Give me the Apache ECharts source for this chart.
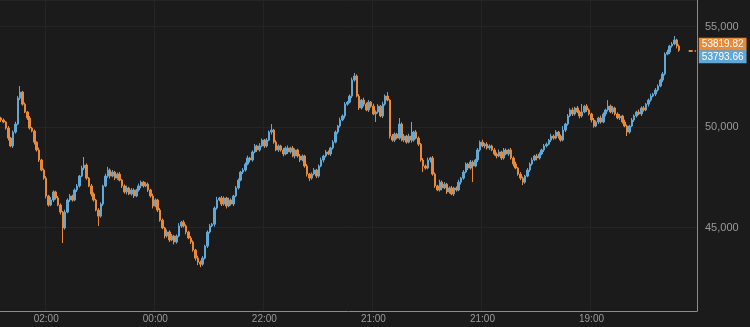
<!DOCTYPE html>
<html>
<head>
<meta charset="utf-8">
<script src="https://cdn.jsdelivr.net/npm/echarts@6/dist/echarts.min.js"></script>
<style>
html,body{margin:0;padding:0;background:#1b1b1b;}
#c{width:750px;height:327px;}
</style>
</head>
<body>
<div id="c"></div>
<script>
// ---- data ----
const firstOpen = 50450;
const closes = [
50350,50250,49950,49450,49060,49750,50150,51440,51740,51140,
50750,50450,49950,49800,49250,48860,48360,47860,47460,46570,
46120,46370,46770,46470,46120,45770,44980,45770,46370,46570,
46370,46870,47070,47560,47960,48110,47460,47070,46670,46370,
45870,45570,46170,47070,47560,47860,47560,47760,47460,47660,
47360,47070,46770,46970,46670,46870,46570,46870,47070,47260,
47070,47160,46870,46570,46070,46370,45870,45370,44980,44580,
44780,44380,44580,44280,44580,45080,45270,45080,44780,44480,
44280,43880,43480,43280,43180,43480,44080,44780,45080,45170,
45970,46370,46470,46170,46470,46070,46370,46170,46570,46970,
47360,47760,47860,48160,48460,48360,48760,49060,48860,49060,
49350,49060,49350,49750,49850,49250,48860,49060,48860,48660,
48960,48760,48960,48560,48860,48560,48360,48560,48060,47660,
47460,47660,47860,47560,48060,48360,48560,48760,48660,48960,
49250,49750,50050,50350,50550,51140,51240,51540,52340,52540,
51540,50950,51340,51140,50850,51240,51040,50650,50750,51040,
50550,51140,51540,51340,49550,49350,49650,49450,50150,49350,
49550,49250,49550,49350,49750,49450,49150,48360,48060,47960,
48360,48460,47660,47070,46870,47260,46970,47160,46770,46970,
46670,46970,46870,47260,47460,47760,48160,47960,48260,48060,
48360,48860,49250,49060,49150,48960,49060,48860,48660,48560,
48760,48460,48860,48660,48860,48460,48160,47960,47660,47460,
47260,47560,47860,48160,48360,48560,48460,48660,48860,49060,
49150,49350,49550,49450,49750,49550,49350,49850,50150,50550,
50850,50650,50950,50750,50550,50750,51040,50850,50650,50350,
50050,50250,50450,50250,50650,50850,51040,50750,50950,50650,
50450,50550,50250,50050,49750,50050,50350,50550,50750,50650,
50950,50850,51140,51340,51540,51640,51840,52040,52340,52640,
53630,53730,54030,54130,54330,54030,53819.82
];
const wickUp = [
60,80,40,100,60,80,120,100,300,60,
80,40,100,60,80,40,120,60,80,100,
60,140,80,60,100,80,60,120,80,100,
60,80,100,60,120,400,80,60,100,80,
60,100,80,60,120,160,80,100,60,80,
100,60,80,120,60,100,80,60,120,80,
60,100,80,60,120,80,60,100,80,60,
120,80,100,60,80,140,60,100,80,60,
100,80,60,120,80,100,60,80,100,60,
80,160,60,100,80,60,120,80,60,100,
80,60,100,80,120,60,80,100,60,140,
80,60,100,80,300,60,100,80,60,100,
80,120,60,100,80,60,100,80,60,100,
60,80,100,60,80,120,60,100,80,60,
100,80,60,120,80,100,60,80,120,150,
80,100,60,120,80,100,60,120,80,100,
60,120,80,200,60,100,80,60,300,80,
100,60,120,700,60,100,80,60,100,80,
120,60,100,80,60,120,80,100,60,80,
100,60,80,120,60,100,80,60,100,80,
60,100,80,120,60,100,80,60,100,80,
120,60,100,80,60,100,80,120,60,100,
80,60,100,80,120,60,100,80,60,100,
80,60,120,80,100,60,80,200,60,100,
80,120,60,100,80,400,60,100,80,60,
100,80,60,120,80,60,300,80,100,60,
80,100,60,120,80,60,100,80,60,120,
80,100,60,80,120,60,100,80,60,100,
80,120,60,100,200,60,80
];
const wickDown = [
100,60,80,120,60,100,80,60,100,80,
60,100,80,60,120,80,100,60,80,120,
80,60,100,80,60,120,750,80,60,100,
80,60,100,80,60,100,80,60,120,80,
60,490,80,100,60,80,120,60,100,80,
60,100,80,120,60,80,100,60,80,120,
80,60,100,80,120,60,100,80,60,120,
80,100,60,120,80,60,100,80,120,60,
100,80,120,150,150,80,60,100,80,60,
120,80,60,100,80,120,60,80,100,60,
80,60,100,80,60,120,80,60,100,80,
60,100,80,60,120,80,60,100,80,120,
60,100,80,60,120,80,100,60,80,120,
150,80,60,100,80,60,120,80,60,100,
80,60,100,80,60,120,80,60,100,80,
60,100,80,120,60,100,80,60,400,80,
60,100,80,60,120,80,100,60,80,60,
100,80,60,120,80,60,100,80,300,80,
60,120,80,100,60,80,120,60,100,80,
60,100,80,60,120,80,60,100,80,800,
60,100,80,60,120,80,100,60,80,120,
60,100,80,60,100,80,120,60,80,100,
150,80,60,100,80,60,120,80,60,100,
80,60,100,80,60,120,80,60,100,80,
60,100,80,60,120,80,60,100,80,120,
80,60,100,80,60,120,80,60,100,80,
60,100,80,60,200,80,60,100,80,60,
100,80,60,120,80,60,100,80,60,100,
80,60,100,80,60,120,80
];
const slotCount = 294;               // category slots on the time axis
const tickLabels = ['02:00','00:00','22:00','21:00','21:00','19:00'];
const tickSlots = [19,65,111,157,203,249];
const lastPrice = 53819.82;
const otherPrice = 53793.66;
const yMin = 40850, yMax = 56320;

// ---- build ----
const cats = [];
for (let i = 0; i < slotCount; i++) cats.push(String(i));
const ohlc = closes.map((c, i) => {
  const o = i === 0 ? firstOpen : closes[i - 1];
  const hi = Math.max(o, c) + wickUp[i];
  const lo = Math.min(o, c) - wickDown[i];
  return [o, c, lo, hi];
});
const tickMap = {};
tickSlots.forEach((s, k) => tickMap[s] = tickLabels[k]);
const isTick = (idx) => tickMap[idx] !== undefined;

const BLUE = '#62a8d6', ORANGE = '#ea8a38';
const lastIdx = closes.length;
const FONT = 'Liberation Sans, Arial, sans-serif';
const chart = echarts.init(document.getElementById('c'));
chart.setOption({
  backgroundColor: '#1b1b1b',
  animation: false,
  grid: {left: 0, right: 53, top: 0, bottom: 16, containLabel: false},
  xAxis: {
    type: 'category', data: cats, boundaryGap: true,
    axisLine: {show: true, lineStyle: {color: '#8c8c8c', width: 1}},
    axisTick: {show: false},
    axisLabel: {
      interval: (idx) => isTick(idx),
      formatter: (v, idx) => tickMap[idx] || '',
      color: '#9a9a9a', fontSize: 10, margin: 3, fontFamily: FONT
    },
    splitLine: {show: true, interval: (idx) => isTick(idx), lineStyle: {color: '#242424', width: 1}}
  },
  yAxis: {
    type: 'value', position: 'right', min: yMin, max: yMax, splitNumber: 3, scale: true,
    axisLine: {show: true, lineStyle: {color: '#8c8c8c', width: 1}},
    axisTick: {show: false},
    axisLabel: {
      color: '#9a9a9a', fontSize: 11, margin: 8, showMinLabel: false, showMaxLabel: false,
      fontFamily: FONT,
      formatter: (v) => v.toLocaleString('en-US')
    },
    splitLine: {show: true, lineStyle: {color: '#242424', width: 1}}
  },
  series: [{
    type: 'candlestick',
    data: ohlc,
    barWidth: 2,
    itemStyle: {color: BLUE, color0: ORANGE, borderColor: BLUE, borderColor0: ORANGE, borderWidth: 1},
    markLine: {
      silent: true, symbol: 'none',
      data: [
        [{coord: [String(lastIdx + 3), lastPrice], lineStyle: {color: ORANGE, type: 'dashed', width: 1},
          label: {show: true, position: 'end', formatter: String(lastPrice), backgroundColor: ORANGE, color: '#fff',
                  fontSize: 10, padding: [2, 3, 1, 3], offset: [0, -6], distance: 3, fontFamily: FONT}},
         {coord: [String(slotCount - 1), lastPrice]}],
        [{coord: [String(lastIdx + 3), otherPrice], lineStyle: {color: BLUE, type: 'dashed', width: 1},
          label: {show: true, position: 'end', formatter: String(otherPrice), backgroundColor: BLUE, color: '#fff',
                  fontSize: 10, padding: [2, 3, 1, 3], offset: [0, 6], distance: 3, fontFamily: FONT}},
         {coord: [String(slotCount - 1), otherPrice]}]
      ]
    }
  }]
});
</script>
</body>
</html>
